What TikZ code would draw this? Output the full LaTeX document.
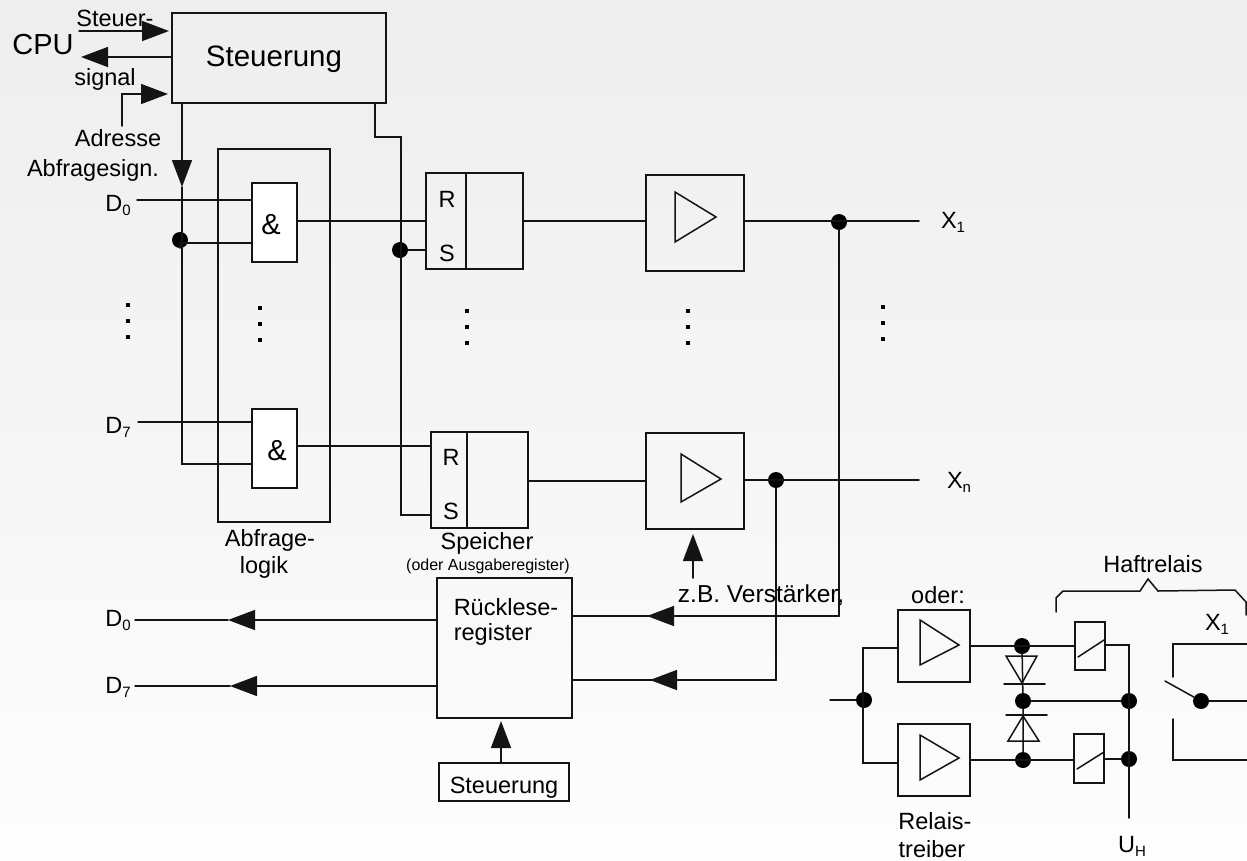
\documentclass[tikz,border=0pt]{standalone}
\usepackage{fontspec}
\setmainfont{Liberation Sans}
\usetikzlibrary{arrows.meta,calc}
\newcommand{\fsz}[1]{\fontsize{#1}{#1}\selectfont}
\newcommand{\subs}[1]{\raisebox{-4pt}{\fsz{15}#1}}
\tikzset{
  wire/.style={line width=1.5pt,line cap=round,line join=miter,draw=black!92},
  arr/.style={wire,-{Triangle[length=27pt,width=20pt]}},
  box/.style={draw=black!92,line width=1.7pt,inner sep=0pt,outer sep=0pt,rectangle},
  wbox/.style={box,fill=white},
  dot/.style={circle,fill=black,inner sep=0pt,minimum size=16pt,outer sep=0pt},
  vdot/.style={rectangle,fill=black,inner sep=0pt,minimum size=4.5pt},
  lbl/.style={inner sep=0pt,font=\fsz{23.5}},
  big/.style={inner sep=0pt,font=\fsz{29.5}},
  tri/.style={wire,line join=miter}
}
\begin{document}
\begin{tikzpicture}[x=1pt,y=-1pt]
\useasboundingbox (0,0) rectangle (1247,860);
\begin{scope}
\clip (0,0) rectangle (1247,860);
\shade[top color=black!9,bottom color=white,shading=axis] (0,-320) rectangle (1247,960);
\end{scope}

% --- outer logic box (behind the gates)
\node[box,minimum width=112pt,minimum height=373pt] (logic) at (274,335.5) {};

% --- boxes
\node[box,minimum width=214pt,minimum height=90pt] (ctrl) at (279,58) {};
\node[big] (ctrltxt) at (274,59) {Steuerung};
\node[wbox,minimum width=45pt,minimum height=79pt] (g1) at (274.5,222.5) {};
\node[font=\fsz{29},inner sep=0pt] (g1t) at (271,225) {\&};
\node[wbox,minimum width=45pt,minimum height=79pt] (g2) at (274.5,448.5) {};
\node[font=\fsz{29},inner sep=0pt] (g2t) at (277,451) {\&};
\node[box,minimum width=97pt,minimum height=96pt] (ff1) at (474.5,221) {};
\node[box,minimum width=97pt,minimum height=96pt] (ff2) at (479.5,480) {};
\node[box,minimum width=98pt,minimum height=96pt] (amp1) at (695,223) {};
\node[box,minimum width=98pt,minimum height=96pt] (amp2) at (695,481) {};
\node[box,minimum width=135pt,minimum height=140pt] (rr) at (504.5,648) {};
\node[box,minimum width=130pt,minimum height=38pt] (ctrl2) at (504,782) {};
\node[box,minimum width=72pt,minimum height=72pt] (amp3) at (934,646) {};
\node[box,minimum width=72pt,minimum height=72pt] (amp4) at (934,760) {};
\node[box,minimum width=30pt,minimum height=48pt] (rel1) at (1090,646) {};
\node[box,minimum width=30pt,minimum height=49pt] (rel2) at (1089,758.5) {};

% --- flip-flop dividers
\draw[wire] (ff1.north west -| 466,0) -- (ff1.south west -| 466,0);
\draw[wire] (ff2.north west -| 467,0) -- (ff2.south west -| 467,0);

% --- amplifier triangles
\draw[tri] (675,192) -- (675,242) -- (716,217) -- cycle;
\draw[tri] (681,454) -- (681,502) -- (721,479) -- cycle;
\draw[tri] (920,620) -- (920,665) -- (959,645) -- cycle;
\draw[tri] (920,735) -- (920,780) -- (959,758) -- cycle;

% --- labels
\node[inner sep=0pt,font=\fsz{29}] (cpu) at (43,45) {CPU};
\node[lbl] (steuer) at (115,18) {Steuer-};
\node[lbl] (signal) at (105,79) {signal};
\node[lbl] (adr) at (118,138) {Adresse};
\node[lbl] (abf) at (93,170) {Abfragesign.};
\node[lbl] (d0a) at (118,205) {D\subs{0}};
\node[lbl] (d7a) at (118,427) {D\subs{7}};
\node[lbl] (d0b) at (118,620) {D\subs{0}};
\node[lbl] (d7b) at (118,687) {D\subs{7}};
\node[lbl] (r1) at (447,199) {R};
\node[lbl] (s1) at (447,253) {S};
\node[lbl] (r2) at (451,457) {R};
\node[lbl] (s2) at (451,511) {S};
\node[lbl] (x1) at (953,222) {X\subs{1}};
\node[lbl] (xn) at (959,482) {X\subs{n}};
\node[lbl] (lab1) at (270,540) {Abfrage-};
\node[lbl] (lab2) at (264,567) {logik};
\node[lbl] (sp) at (487,543) {Speicher};
\node[inner sep=0pt,font=\fsz{16}] (sp2) at (488,566) {(oder Ausgaberegister)};
\node[lbl] (rue1) at (506,607) {Rücklese-};
\node[lbl] (rue2) at (493,634) {register};
\node[lbl] (ctrl2t) at (504,788) {Steuerung};
\node[inner sep=0pt,font=\fsz{24.5}] (zb) at (761,595) {z.B. Verstärker,};
\node[lbl] (oder) at (938,595) {oder:};
\node[lbl] (haft) at (1153,564) {Haftrelais};
\node[lbl] (x1b) at (1217,624) {X\subs{1}};
\node[lbl] (rel1t) at (935,821) {Relais-};
\node[lbl] (rel2t) at (932,849) {treiber};
\node[lbl] (uh) at (1132,846) {U\subs{H}};

% --- vertical ellipses
\foreach \n/\x/\y in {a/128/305,b/260/308,c/467/311,d/688/311,e/883/307}{
  \node[vdot] (\n1) at (\x,\y) {};
  \node[vdot] (\n2) at (\x,\y+16) {};
  \node[vdot] (\n3) at (\x,\y+32) {};
}

% --- junction dots
\node[dot] (j1) at (180,240) {};
\node[dot] (j2) at (400,250) {};
\node[dot] (j3) at (839,222) {};
\node[dot] (j4) at (776,480) {};
\node[dot] (j5) at (864,700) {};
\node[dot] (j6) at (1022,646) {};
\node[dot] (j7) at (1023,701) {};
\node[dot] (j8) at (1023,760) {};
\node[dot] (j9) at (1129,701) {};
\node[dot] (j10) at (1129,759) {};
\node[dot] (j11) at (1201,701) {};

% --- free ends
\coordinate (c1) at (79,31);
\coordinate (c2) at (81,57);
\coordinate (c3) at (122,126);
\coordinate (c4) at (122,94);
\coordinate (c5) at (182,103);
\coordinate (c6) at (182,187);
\coordinate (c7) at (182,464);
\coordinate (c8) at (375,103);
\coordinate (c9) at (375,137);
\coordinate (c10) at (401,137);
\coordinate (c11) at (401,515);
\coordinate (d0l) at (137,200);
\coordinate (d7l) at (138,422);
\coordinate (xe1) at (919,221);
\coordinate (xen) at (919,480);
\coordinate (cor1) at (839,616);
\coordinate (cor2) at (776,680);
\coordinate (d0e) at (135,620);
\coordinate (d7e) at (135,686);
\coordinate (in) at (830,700);
\coordinate (sw1) at (1173,644);
\coordinate (sw2) at (1173,760);
\coordinate (sw1b) at (1173,677);
\coordinate (sw2b) at (1173,719);
\coordinate (swe1) at (1247,644);
\coordinate (swe2) at (1247,760);
\coordinate (swe3) at (1247,701);
\coordinate (blade) at (1165,681);
\coordinate (uhe) at (1129,818);
\coordinate (ampup) at (693,578);

% --- CPU side
\draw[arr,shorten >=3pt] (c1) -- (c1 -| ctrl.west);
\draw[arr] (c2 -| ctrl.west) -- (c2);
\draw[arr,shorten >=4pt] (c3) -- (c4) -- (c4 -| ctrl.west);

% --- control lines
\draw[arr] (c5) -- (c6);
\draw[wire] (c6) -- (c7) -- (c7 -| g2.west);
\draw[wire] (j1) -- (j1 |- 0,243) -- (g1.west |- 0,243);
\draw[wire] (d0l) -- (d0l -| g1.west);
\draw[wire] (d7l) -- (d7l -| g2.west);
\draw[wire] (c8) -- (c9) -- (c10) -- (c11) -- (c11 -| ff2.west);
\draw[wire] (j2) -- (ff1.west |- j2);

% --- signal path
\draw[wire] (g1.east |- 0,221) -- (ff1.west |- 0,221);
\draw[wire] (g2.east |- 0,446) -- (ff2.west |- 0,446);
\draw[wire] (ff1.east) -- (amp1.west |- ff1.east);
\draw[wire] (ff2.east |- 0,481) -- (amp2.west |- 0,481);
\draw[wire] (amp1.east |- xe1) -- (xe1);
\draw[wire] (amp2.east |- xen) -- (xen);

% --- read-back
\draw[wire] (j3) -- (cor1);
\draw[wire] (j4) -- (cor2);
\draw[wire] (cor1) -- (rr.east |- cor1);
\draw[arr] (cor1) -- (647,616);
\draw[wire] (cor2) -- (rr.east |- cor2);
\draw[arr] (cor2) -- (650,680);
\draw[arr] (rr.west |- d0e) -- (228,620);
\draw[wire] (228,620) -- (d0e);
\draw[arr] (rr.west |- d7e) -- (230,686);
\draw[wire] (230,686) -- (d7e);
\draw[arr] (rr.south -| 501,0) ++(0,45) -- (501,721);
\draw[arr,shorten >=5pt] (ampup) -- (ampup |- amp2.south);

% --- relay driver
\draw[wire] (in) -- (j5);
\draw[wire] (amp3.west |- 0,648) -- (863,648) -- (863,763) -- (amp4.west |- 0,763);
\draw[wire] (amp3.east) -- (rel1.west);
\draw[wire] (amp4.east) -- (rel2.west |- amp4.east);
\draw[wire] (1078,657) -- (1104,640);
\draw[wire] (1077,769) -- (1104,752);
\draw[wire] (rel1.east |- 0,645) -- (1129,645) -- (uhe);
\draw[wire] (rel2.east |- j10) -- (j10);
\draw[wire] (j7) -- (j9);
\draw[wire] (j6) -- (j7) -- (j8);
\draw[tri] (1006,656) -- (1037,656) -- (1022,683) -- cycle;
\draw[wire] (1004,684) -- (1045,684);
\draw[wire] (1006,715) -- (1047,715);
\draw[tri] (1008,741) -- (1039,741) -- (1023,716) -- cycle;

% --- Haftrelais brace
\draw[wire] (1056,612) -- (1056,598) -- (1063,591) -- (1140,591) -- (1148,579) -- (1158,591) -- (1235,590) -- (1246,602) -- (1246,615);

% --- switch
\draw[wire] (sw1b) -- (sw1) -- (swe1);
\draw[wire] (sw2b) -- (sw2) -- (swe2);
\draw[wire] (blade) -- (j11);
\draw[wire] (j11) -- (swe3);
\end{tikzpicture}
\end{document}
